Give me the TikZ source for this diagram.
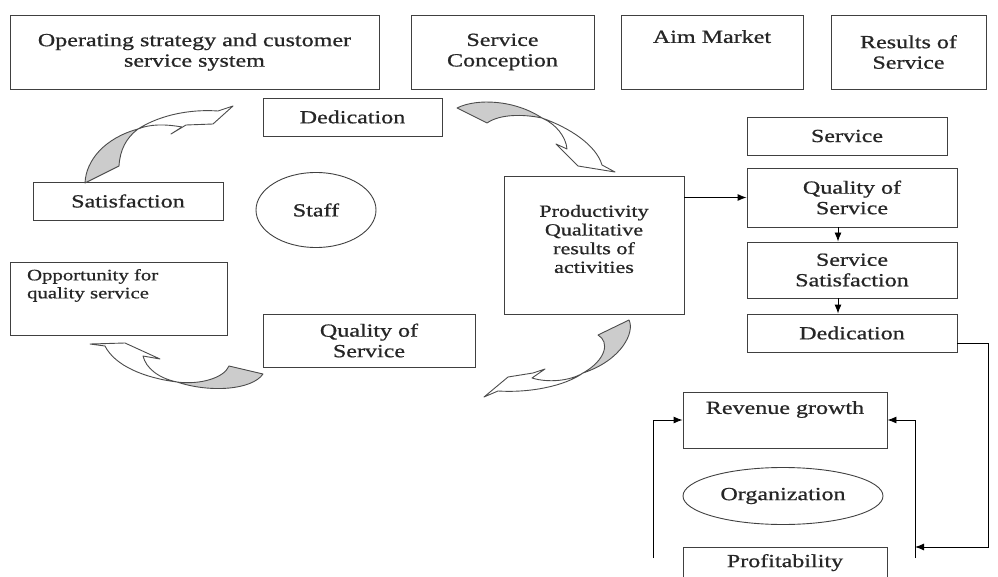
\documentclass[tikz,border=0pt]{standalone}
\usepackage{fontspec}
\setmainfont{Liberation Serif}[FakeStretch=1.3, FakeBold=0.8]
\usepackage{tikz}
\usetikzlibrary{arrows.meta,shapes.geometric}

\tikzset{
	txt/.style={align=center, text=black!85, font=\fontsize{18.5}{20.5}\selectfont},
	box/.style={draw=black!75, line width=0.9pt, rectangle, inner sep=2pt, txt},
	oval/.style={draw=black!75, line width=0.9pt, ellipse, inner sep=0pt, txt},
	link/.style={draw=black, line width=0.9pt, -{Latex[length=9pt,width=7pt]}},
	back/.style={draw=black!70, line width=0.9pt, fill=black!20, line join=round},
	front/.style={draw=black!70, line width=0.9pt, fill=white, line join=round}
}

\begin{document}
\begin{tikzpicture}[x=1pt, y=-1pt]
	\useasboundingbox (0,0) rectangle (998,577);
	\clip (0,0) rectangle (998,577);
	\node[box, minimum width=369pt, minimum height=74pt] (strategy) at (194.5,52) {Operating strategy and customer\\service system};
	\node[box, minimum width=183pt, minimum height=74pt] (conception) at (502.5,52) {Service\\Conception};
	\node[box, minimum width=182pt, minimum height=74pt, label={[txt, anchor=north, yshift=-12pt]north:Aim Market}] (market) at (712,52) {};
	\node[box, minimum width=155pt, minimum height=74pt] (results) at (908.5,52) {Results of\\Service};
	\node[box, minimum width=179pt, minimum height=38pt] (dedL) at (352.5,117) {Dedication};
	\node[box, minimum width=190pt, minimum height=38pt] (satisf) at (128,201) {Satisfaction};
	\node[oval, minimum width=120pt, minimum height=75pt] (staff) at (316,210) {Staff};
	\node[box, minimum width=217pt, minimum height=73pt, label={[txt, align=left, font=\fontsize{16}{18}\selectfont, anchor=north west, xshift=14pt, yshift=-4pt]north west:Opportunity for\\quality service}] (opport) at (118.5,298.5) {};
	\node[box, minimum width=212pt, minimum height=53pt] (qualL) at (369,340.5) {Quality of\\Service};
	\node[box, minimum width=180pt, minimum height=138pt, label={[txt, font=\fontsize{17}{18.7}\selectfont, yshift=6pt]center:Productivity\\Qualitative\\results of\\activities}] (prod) at (594,245) {};
	\node[box, minimum width=200pt, minimum height=38pt] (serv) at (847,136) {Service};
	\node[box, minimum width=210pt, minimum height=59pt] (qualR) at (852,197.5) {Quality of\\Service};
	\node[box, minimum width=210pt, minimum height=56pt] (ssat) at (852,270) {Service\\Satisfaction};
	\node[box, minimum width=210pt, minimum height=38pt] (dedR) at (852,333) {Dedication};
	\node[box, minimum width=204pt, minimum height=56pt, label={[txt, anchor=north, yshift=-6pt]north:Revenue growth}] (revenue) at (785,420) {};
	\node[oval, minimum width=200pt, minimum height=57pt] (org) at (783,496) {Organization};
	\node[box, minimum width=204pt, minimum height=52pt, label={[txt, anchor=north, yshift=-4pt]north:Profitability}] (profit) at (785,573) {};
	\coordinate (lbot) at (653,558);
	\coordinate (rbot) at (915,558);
	\coordinate (rturn) at (988,343);
	\coordinate (rdown) at (988,547);
	\draw[link] (prod.east |- qualR.west) -- (qualR.west);
	\draw[link] ([xshift=-14pt]qualR.south) -- ([xshift=-14pt]ssat.north);
	\draw[link] ([xshift=-14pt]ssat.south) -- ([xshift=-14pt]dedR.north);
	\draw[link] (lbot) |- (revenue.west);
	\draw[link] (rbot) |- (revenue.east);
	\draw[link] (dedR.east |- rturn) -- (rturn) -- (rdown) -- (rdown -| rbot);
	\draw[back] (85,183) .. controls (86,160) and (105,138) .. (138,129) .. controls (126,138) and (120,150) .. (119,166) -- cycle;
	\draw[front] (138,129) .. controls (160,115) and (190,109) .. (218,111) -- (233,106) -- (213,124) -- (186,125) -- (171,134) -- (182,127) .. controls (165,124) and (150,124) .. (138,129) -- cycle;
	\draw[back] (457,108) .. controls (477,98) and (515,100) .. (542,118) .. controls (523,114) and (500,114) .. (487,123) -- cycle;
	\draw[front] (542,118) .. controls (570,128) and (596,145) .. (602,165) -- (615,172) -- (578,166) -- (556,144) -- (567,149) .. controls (566,137) and (556,124) .. (542,118) -- cycle;
	\draw[back] (229,366) -- (263,374) .. controls (252,390) and (210,393) .. (177,382) .. controls (200,385) and (224,378) .. (229,366) -- cycle;
	\draw[front] (177,382) .. controls (145,378) and (115,366) .. (105,346) -- (90,344) -- (125,343) -- (160,359) -- (143,356) .. controls (146,368) and (158,378) .. (177,382) -- cycle;
	\draw[back] (598,335) -- (629,320) .. controls (635,332) and (622,360) .. (583,373) .. controls (606,360) and (610,342) .. (598,335) -- cycle;
	\draw[front] (583,373) .. controls (565,386) and (530,393) .. (498,391) -- (484,397) -- (508,377) -- (533,373) -- (545,369) -- (532,378) .. controls (548,383) and (570,381) .. (583,373) -- cycle;
\end{tikzpicture}
\end{document}
